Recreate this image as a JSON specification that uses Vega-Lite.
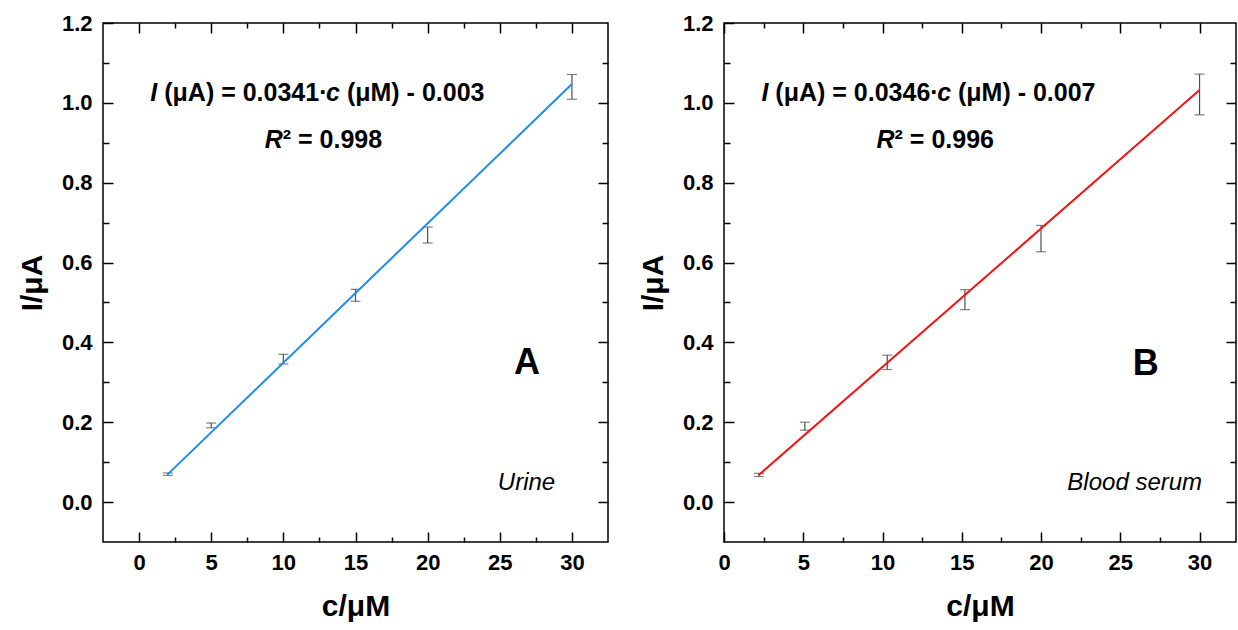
{
  "$schema": "https://vega.github.io/schema/vega-lite/v6.json",
  "background": "white",
  "padding": {"left": 16, "top": 11, "right": 2, "bottom": 4},
  "spacing": 27,
  "datasets": {
    "ptsA": [
      {"c": 2, "I": 0.07, "err": 0.003},
      {"c": 5, "I": 0.192, "err": 0.006},
      {"c": 10, "I": 0.358, "err": 0.012},
      {"c": 15, "I": 0.518, "err": 0.015},
      {"c": 20, "I": 0.669, "err": 0.02},
      {"c": 30, "I": 1.04, "err": 0.031}
    ],
    "fitA": [{"c": 2, "I": 0.07}, {"c": 30, "I": 1.047}],
    "upA": [
      {"c": 1.742, "I": 1.005, "t": "(μA) = 0.0341·"},
      {"c": 14.404, "I": 1.005, "t": "(μM) - 0.003"},
      {"c": 9.958, "I": 0.886, "t": "² = 0.998"}
    ],
    "itA": [
      {"c": 0.778, "I": 1.005, "t": "I"},
      {"c": 12.959, "I": 1.005, "t": "c"},
      {"c": 8.707, "I": 0.886, "t": "R"}
    ],
    "labA": [{"c": 26.886, "I": 0.32, "t": "A"}],
    "smpA": [{"c": 26.85, "I": 0.03, "t": "Urine"}],
    "ptsB": [
      {"c": 2.2, "I": 0.068, "err": 0.004},
      {"c": 5.1, "I": 0.19, "err": 0.01},
      {"c": 10.3, "I": 0.35, "err": 0.018},
      {"c": 15.2, "I": 0.507, "err": 0.025},
      {"c": 20, "I": 0.66, "err": 0.033},
      {"c": 30, "I": 1.021, "err": 0.051}
    ],
    "fitB": [{"c": 2.2, "I": 0.068}, {"c": 30, "I": 1.032}],
    "upB": [
      {"c": 3.24, "I": 1.005, "t": "(μA) = 0.0346·"},
      {"c": 14.76, "I": 1.005, "t": "(μM) - 0.007"},
      {"c": 10.76, "I": 0.886, "t": "² = 0.996"}
    ],
    "itB": [
      {"c": 2.36, "I": 1.005, "t": "I"},
      {"c": 13.45, "I": 1.005, "t": "c"},
      {"c": 9.62, "I": 0.886, "t": "R"}
    ],
    "labB": [{"c": 26.61, "I": 0.318, "t": "B"}],
    "smpB": [{"c": 25.91, "I": 0.03, "t": "Blood serum"}]
  },
  "config": {
    "font": "Liberation Sans",
    "view": {"stroke": "black", "strokeWidth": 1.5},
    "axis": {
      "domain": false,
      "grid": false,
      "tickColor": "black",
      "tickWidth": 1.5,
      "labelFont": "Liberation Sans",
      "labelFontWeight": "bold",
      "labelFontSize": 22,
      "labelColor": "black",
      "labelFlush": false,
      "labelOverlap": false,
      "titleFont": "Liberation Sans",
      "titleFontWeight": "bold",
      "titleFontSize": 30,
      "titleColor": "black"
    }
  },
  "hconcat": [
    {
      "width": 505,
      "height": 519,
      "resolve": {"scale": {"x": "shared", "y": "shared"}, "axis": {"x": "independent", "y": "independent"}},
      "layer": [
        {
          "data": {"name": "ptsA"},
          "mark": {"type": "errorbar", "color": "#4d4d4d", "thickness": 1.2, "ticks": {"size": 10}},
          "encoding": {
            "x": {"field": "c", "type": "quantitative", "scale": {"domain": [-2.5, 32.5], "nice": false, "zero": false},
                  "axis": {"orient": "bottom", "values": [0, 5, 10, 15, 20, 25, 30], "tickSize": -10, "labelPadding": 20, "title": "c/μM", "titlePadding": 18}},
            "y": {"field": "I", "type": "quantitative", "scale": {"domain": [-0.1, 1.2], "nice": false, "zero": false},
                  "axis": {"orient": "left", "values": [0, 0.2, 0.4, 0.6, 0.8, 1.0, 1.2], "format": ".1f", "tickSize": -10, "labelPadding": 21, "title": "I/μA", "titlePadding": 14}},
            "yError": {"field": "err"}
          }
        },
        {
          "data": {"name": "fitA"},
          "mark": {"type": "line", "color": "#1E8CF0", "strokeWidth": 2},
          "encoding": {
            "x": {"field": "c", "type": "quantitative", "axis": {"orient": "bottom", "values": [2.5, 7.5, 12.5, 17.5, 22.5, 27.5], "tickSize": -5, "labels": false, "title": null}},
            "y": {"field": "I", "type": "quantitative", "axis": {"orient": "left", "values": [0.1, 0.3, 0.5, 0.7, 0.9, 1.1], "tickSize": -6, "labels": false, "title": null}}
          }
        },
        {
          "data": {"name": "upA"},
          "mark": {"type": "text", "font": "Liberation Sans", "fontWeight": "bold", "fontSize": 25, "align": "left", "baseline": "alphabetic", "color": "black"},
          "encoding": {
            "x": {"field": "c", "type": "quantitative", "axis": {"orient": "top", "values": [0, 5, 10, 15, 20, 25, 30], "tickSize": -10, "labels": false, "title": null}},
            "y": {"field": "I", "type": "quantitative", "axis": {"orient": "right", "values": [0, 0.2, 0.4, 0.6, 0.8, 1.0], "tickSize": -10, "labels": false, "title": null}},
            "text": {"field": "t"}
          }
        },
        {
          "data": {"name": "itA"},
          "mark": {"type": "text", "font": "Liberation Sans", "fontWeight": "bold", "fontStyle": "italic", "fontSize": 25, "align": "left", "baseline": "alphabetic", "color": "black"},
          "encoding": {
            "x": {"field": "c", "type": "quantitative", "axis": {"orient": "top", "values": [2.5, 7.5, 12.5, 17.5, 22.5, 27.5], "tickSize": -5, "labels": false, "title": null}},
            "y": {"field": "I", "type": "quantitative", "axis": {"orient": "right", "values": [0.1, 0.3, 0.5, 0.7, 0.9, 1.1], "tickSize": -6, "labels": false, "title": null}},
            "text": {"field": "t"}
          }
        },
        {
          "data": {"name": "labA"},
          "mark": {"type": "text", "font": "Liberation Sans", "fontWeight": "bold", "fontSize": 36, "align": "center", "baseline": "alphabetic", "color": "black"},
          "encoding": {
            "x": {"field": "c", "type": "quantitative", "axis": null},
            "y": {"field": "I", "type": "quantitative", "axis": null},
            "text": {"field": "t"}
          }
        },
        {
          "data": {"name": "smpA"},
          "mark": {"type": "text", "font": "Liberation Sans", "fontStyle": "italic", "fontSize": 24, "align": "center", "baseline": "alphabetic", "color": "black"},
          "encoding": {
            "x": {"field": "c", "type": "quantitative", "axis": null},
            "y": {"field": "I", "type": "quantitative", "axis": null},
            "text": {"field": "t"}
          }
        }
      ]
    },
    {
      "width": 512,
      "height": 519,
      "resolve": {"scale": {"x": "shared", "y": "shared"}, "axis": {"x": "independent", "y": "independent"}},
      "layer": [
        {
          "data": {"name": "ptsB"},
          "mark": {"type": "errorbar", "color": "#4d4d4d", "thickness": 1.2, "ticks": {"size": 10}},
          "encoding": {
            "x": {"field": "c", "type": "quantitative", "scale": {"domain": [0, 32.3], "nice": false, "zero": false},
                  "axis": {"orient": "bottom", "values": [0, 5, 10, 15, 20, 25, 30], "tickSize": -10, "labelPadding": 20, "title": "c/μM", "titlePadding": 18}},
            "y": {"field": "I", "type": "quantitative", "scale": {"domain": [-0.1, 1.2], "nice": false, "zero": false},
                  "axis": {"orient": "left", "values": [0, 0.2, 0.4, 0.6, 0.8, 1.0, 1.2], "format": ".1f", "tickSize": -10, "labelPadding": 21, "title": "I/μA", "titlePadding": 14}},
            "yError": {"field": "err"}
          }
        },
        {
          "data": {"name": "fitB"},
          "mark": {"type": "line", "color": "#F51414", "strokeWidth": 2},
          "encoding": {
            "x": {"field": "c", "type": "quantitative", "axis": {"orient": "bottom", "values": [2.5, 7.5, 12.5, 17.5, 22.5, 27.5], "tickSize": -5, "labels": false, "title": null}},
            "y": {"field": "I", "type": "quantitative", "axis": {"orient": "left", "values": [0.1, 0.3, 0.5, 0.7, 0.9, 1.1], "tickSize": -6, "labels": false, "title": null}}
          }
        },
        {
          "data": {"name": "upB"},
          "mark": {"type": "text", "font": "Liberation Sans", "fontWeight": "bold", "fontSize": 25, "align": "left", "baseline": "alphabetic", "color": "black"},
          "encoding": {
            "x": {"field": "c", "type": "quantitative", "axis": {"orient": "top", "values": [0, 5, 10, 15, 20, 25, 30], "tickSize": -10, "labels": false, "title": null}},
            "y": {"field": "I", "type": "quantitative", "axis": {"orient": "right", "values": [0, 0.2, 0.4, 0.6, 0.8, 1.0], "tickSize": -10, "labels": false, "title": null}},
            "text": {"field": "t"}
          }
        },
        {
          "data": {"name": "itB"},
          "mark": {"type": "text", "font": "Liberation Sans", "fontWeight": "bold", "fontStyle": "italic", "fontSize": 25, "align": "left", "baseline": "alphabetic", "color": "black"},
          "encoding": {
            "x": {"field": "c", "type": "quantitative", "axis": {"orient": "top", "values": [2.5, 7.5, 12.5, 17.5, 22.5, 27.5], "tickSize": -5, "labels": false, "title": null}},
            "y": {"field": "I", "type": "quantitative", "axis": {"orient": "right", "values": [0.1, 0.3, 0.5, 0.7, 0.9, 1.1], "tickSize": -6, "labels": false, "title": null}},
            "text": {"field": "t"}
          }
        },
        {
          "data": {"name": "labB"},
          "mark": {"type": "text", "font": "Liberation Sans", "fontWeight": "bold", "fontSize": 36, "align": "center", "baseline": "alphabetic", "color": "black"},
          "encoding": {
            "x": {"field": "c", "type": "quantitative", "axis": null},
            "y": {"field": "I", "type": "quantitative", "axis": null},
            "text": {"field": "t"}
          }
        },
        {
          "data": {"name": "smpB"},
          "mark": {"type": "text", "font": "Liberation Sans", "fontStyle": "italic", "fontSize": 24, "align": "center", "baseline": "alphabetic", "color": "black"},
          "encoding": {
            "x": {"field": "c", "type": "quantitative", "axis": null},
            "y": {"field": "I", "type": "quantitative", "axis": null},
            "text": {"field": "t"}
          }
        }
      ]
    }
  ]
}
